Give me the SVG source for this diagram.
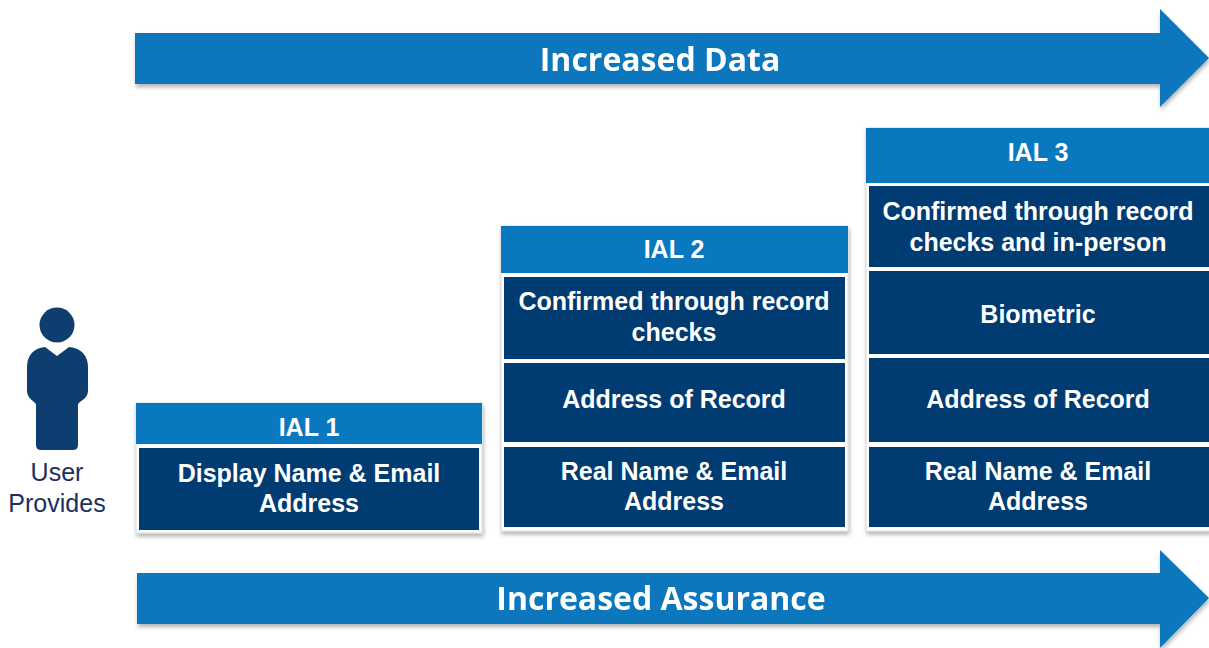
<svg xmlns="http://www.w3.org/2000/svg" width="1209" height="648" viewBox="0 0 1209 648">
<defs>
<filter id="sh" x="-5%" y="-5%" width="110%" height="115%">
<feDropShadow dx="1" dy="3" stdDeviation="2" flood-color="#000" flood-opacity="0.3"/>
</filter>
</defs>
<style>
.arrow{fill:#0777BD}
.atext{font-family:"Open Sans","Noto Sans",sans-serif;font-weight:700;font-size:32px;fill:#fff;text-anchor:middle}
.frame{fill:#fff;stroke:#d6dbe0;stroke-width:1}
.hdr{fill:#0A78BE}
.cell{fill:#003B71}
.t{font-family:"Liberation Sans",Arial,sans-serif;font-weight:700;font-size:25px;fill:#fff;text-anchor:middle}
.u{font-family:"Liberation Sans",Arial,sans-serif;font-size:25px;fill:#1E2F5C;text-anchor:middle}
</style>
<rect width="1209" height="648" fill="#fff"/>
<g id="connectors">
<g id="arrow-data" filter="url(#sh)">
<path class="arrow" d="M135 33 L1160 33 L1160 9 L1209 58 L1160 107 L1160 84 L135 84 Z"/>
<text class="atext" x="660" y="71">Increased Data</text>
</g>
<g id="arrow-assurance" filter="url(#sh)">
<path class="arrow" d="M137 573 L1160 573 L1160 550 L1209 598 L1160 648 L1160 624 L137 624 Z"/>
<text class="atext" x="661" y="610">Increased Assurance</text>
</g>
</g>
<g id="user">
<circle cx="57" cy="325" r="17.5" fill="#0E3D70"/>
<path fill="#0E3D70" d="M45 347 L57 356 L69 347 Q88 349 88 368 L88 391 Q88 397 80 402 L78 404 L78 445 Q78 450 73 450 L41 450 Q36 450 36 445 L36 404 L34 402 Q27 397 27 391 L27 368 Q27 349 45 347 Z"/>
<text class="u" x="57" y="481">User</text>
<text class="u" x="57" y="512">Provides</text>
</g>
<g id="ial1">
<rect class="frame" x="136" y="403" width="346" height="130" filter="url(#sh)"/>
<rect class="hdr" x="136" y="403" width="346" height="41"/>
<text class="t" x="309" y="436">IAL 1</text>
<rect class="cell" x="139" y="448" width="340" height="82"/>
<text class="t" x="309" y="482">Display Name &amp; Email</text>
<text class="t" x="309" y="512">Address</text>
</g>
<g id="ial2">
<rect class="frame" x="501" y="226" width="347" height="305" filter="url(#sh)"/>
<rect class="hdr" x="501" y="226" width="347" height="47"/>
<text class="t" x="674" y="258">IAL 2</text>
<rect class="cell" x="504" y="277" width="341" height="82"/>
<text class="t" x="674" y="310">Confirmed through record</text>
<text class="t" x="674" y="341">checks</text>
<rect class="cell" x="504" y="363" width="341" height="79"/>
<text class="t" x="674" y="408">Address of Record</text>
<rect class="cell" x="504" y="447" width="341" height="80"/>
<text class="t" x="674" y="480">Real Name &amp; Email</text>
<text class="t" x="674" y="510">Address</text>
</g>
<g id="ial3">
<rect class="frame" x="866" y="128" width="345" height="403" filter="url(#sh)"/>
<rect class="hdr" x="866" y="128" width="345" height="55"/>
<text class="t" x="1038" y="161">IAL 3</text>
<rect class="cell" x="869" y="186" width="342" height="81"/>
<text class="t" x="1038" y="220">Confirmed through record</text>
<text class="t" x="1038" y="251">checks and in-person</text>
<rect class="cell" x="869" y="271" width="342" height="83"/>
<text class="t" x="1038" y="323">Biometric</text>
<rect class="cell" x="869" y="358" width="342" height="84"/>
<text class="t" x="1038" y="408">Address of Record</text>
<rect class="cell" x="869" y="447" width="342" height="80"/>
<text class="t" x="1038" y="480">Real Name &amp; Email</text>
<text class="t" x="1038" y="510">Address</text>
</g>
</svg>
